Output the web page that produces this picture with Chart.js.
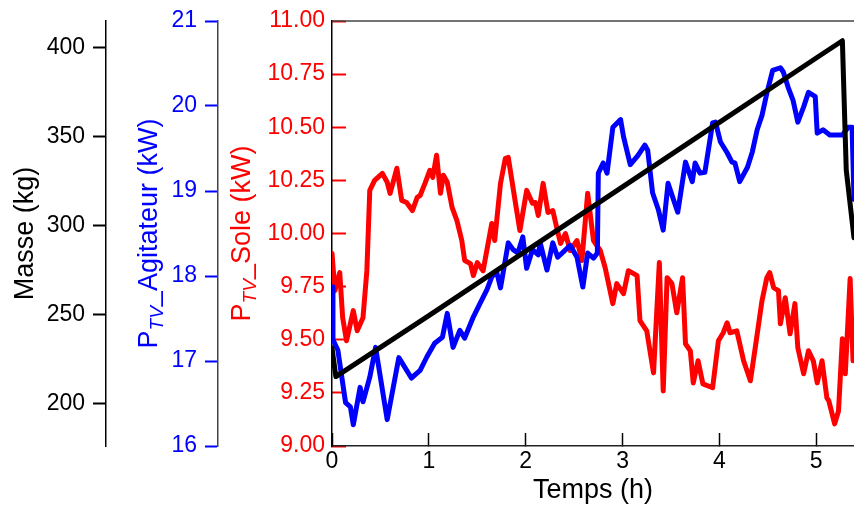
<!DOCTYPE html>
<html>
<head>
<meta charset="utf-8">
<script src="https://cdn.jsdelivr.net/npm/chart.js@4/dist/chart.umd.min.js"></script>
<style>
  body { margin: 0; background: #fff; }
</style>
</head>
<body>
<canvas id="grafico" width="854" height="507"></canvas>
<script>
// Masse (kg) vs temps (h)
const tempsMasse = [0, 0.04, 1, 2, 3, 4, 5, 5.27, 5.31, 5.39];
const masse = [231, 215, 249.3, 285.5, 321.6, 357.8, 394, 403.7, 331, 293];

// P_TV_Agitateur (kW)
const tempsAgit = [0, 0.01, 0.06, 0.14, 0.19, 0.22, 0.29, 0.32, 0.39, 0.45, 0.57, 0.69, 0.82, 0.91, 0.98,
    1.06, 1.14, 1.19, 1.25, 1.32, 1.37, 1.46, 1.53, 1.6, 1.65, 1.7, 1.74, 1.82, 1.87, 1.92, 1.97,
    2.01, 2.07, 2.13, 2.15, 2.22, 2.28, 2.33, 2.46, 2.53, 2.59, 2.64, 2.7, 2.74, 2.75, 2.8, 2.84, 2.9, 2.98,
    3.01, 3.08, 3.16, 3.23, 3.26, 3.31, 3.37, 3.42, 3.47, 3.57, 3.65, 3.72, 3.75, 3.8, 3.85, 3.93, 3.96,
    4.01, 4.08, 4.13, 4.16, 4.21, 4.29, 4.34, 4.39, 4.44, 4.49, 4.55, 4.63, 4.66, 4.71, 4.76, 4.81, 4.87,
    4.92, 4.99, 5.01, 5.07, 5.14, 5.27, 5.33, 5.37, 5.39];
const agitateur = [17.87, 17.25, 17.13, 16.51, 16.46, 16.25, 16.69, 16.52, 16.81, 17.16, 16.31, 17.04, 16.8, 16.89, 17.05,
    17.21, 17.28, 17.56, 17.16, 17.36, 17.27, 17.52, 17.68, 17.84, 17.99, 18.05, 17.86, 18.39, 18.31, 18.27, 18.46,
    18.09, 18.31, 18.25, 18.39, 18.07, 18.39, 18.22, 18.36, 18.22, 17.87, 18.27, 18.21, 18.27, 19.21, 19.33, 19.21, 19.75, 19.84,
    19.64, 19.31, 19.42, 19.54, 19.48, 18.98, 18.78, 18.54, 19.09, 18.75, 19.34, 19.11, 19.33, 19.21, 19.22, 19.8, 19.81,
    19.58, 19.45, 19.34, 19.33, 19.11, 19.28, 19.46, 19.72, 19.89, 20.15, 20.42, 20.45, 20.4, 20.22, 20.07, 19.81, 19.99,
    20.16, 20.11, 19.68, 19.72, 19.66, 19.66, 19.75, 19.75, 18.9];

// P_TV_Sole (kW)
const tempsSole = [0, 0.03, 0.08, 0.11, 0.15, 0.22, 0.26, 0.32, 0.36, 0.39, 0.44, 0.52, 0.57, 0.6, 0.67, 0.72, 0.77,
    0.83, 0.88, 0.91, 0.96, 1.01, 1.04, 1.08, 1.12, 1.15, 1.19, 1.24, 1.29, 1.34, 1.37, 1.43, 1.46, 1.5, 1.56,
    1.65, 1.68, 1.74, 1.79, 1.82, 1.89, 1.94, 2.01, 2.07, 2.1, 2.13, 2.18, 2.23, 2.28, 2.32, 2.36, 2.41, 2.46,
    2.53, 2.58, 2.64, 2.7, 2.77, 2.82, 2.9, 2.94, 3.01, 3.06, 3.15, 3.18, 3.25, 3.32, 3.38, 3.42, 3.46, 3.51,
    3.56, 3.62, 3.65, 3.7, 3.73, 3.78, 3.83, 3.93, 3.99, 4.04, 4.08, 4.11, 4.18, 4.25, 4.32, 4.37, 4.44, 4.49,
    4.52, 4.56, 4.61, 4.63, 4.68, 4.73, 4.78, 4.81, 4.87, 4.92, 4.97, 5.01, 5.06, 5.11, 5.13, 5.19, 5.23, 5.27,
    5.3, 5.35, 5.38, 5.39];
const sole = [9.906, 9.731, 9.816, 9.604, 9.495, 9.637, 9.542, 9.604, 9.825, 10.203, 10.25, 10.283, 10.241, 10.189, 10.307, 10.156, 10.146,
    10.108, 10.17, 10.179, 10.236, 10.297, 10.264, 10.368, 10.189, 10.274, 10.241, 10.123, 10.061, 9.967, 9.873, 9.858, 9.802, 9.863, 9.825,
    10.047, 9.967, 10.236, 10.354, 10.358, 10.156, 10.014, 10.203, 10.142, 10.146, 10.085, 10.236, 10.099, 10.108, 10.028, 9.953, 10.0, 9.92,
    9.967, 9.873, 10.189, 9.967, 9.92, 9.84, 9.67, 9.764, 9.717, 9.825, 9.802, 9.59, 9.542, 9.344, 9.863, 9.259, 9.792, 9.764,
    9.627, 9.792, 9.481, 9.448, 9.297, 9.401, 9.292, 9.274, 9.495, 9.533, 9.58, 9.533, 9.542, 9.401, 9.307, 9.462, 9.684, 9.792,
    9.816, 9.745, 9.731, 9.575, 9.698, 9.528, 9.67, 9.462, 9.34, 9.448, 9.401, 9.297, 9.401, 9.226, 9.212, 9.104, 9.165, 9.505,
    9.34, 9.788, 9.401, 9.45];

// bornes et graduations des axes
const bornesTemps = [0, 5.39];
const bornesMasse = [176, 414.8];
const bornesAgit = [16, 21];
const bornesSole = [9, 11];
const pasTemps = 1;
const pasMasse = 50;
const pasAgit = 1;
const pasSole = 0.25;

const titreX = "Temps (h)";
const titresY = [
    { x: 33, color: "#000000", parts: [["Masse (kg)", false]] },
    { x: 157, color: "#0000ff", parts: [["P", false], ["TV", true], ["_Agitateur (kW)", false]] },
    { x: 250, color: "#ff0000", parts: [["P", false], ["TV", true], ["_Sole (kW)", false]] },
];

const police = "'Liberation Sans', Arial, sans-serif";
Chart.defaults.font.family = police;

const toPoints = (xs, ys) => xs.map((x, i) => ({ x: x, y: ys[i] }));

// titres verticaux avec indice, et cadre du haut
const titresAxes = {
    id: "titresAxes",
    afterDraw(chart) {
        const ctx = chart.ctx;
        const area = chart.chartArea;
        const cy = (area.top + area.bottom) / 2;
        ctx.save();
        ctx.strokeStyle = "#444";
        ctx.lineWidth = 1.5;
        ctx.beginPath();
        ctx.moveTo(area.left, area.top);
        ctx.lineTo(area.right, area.top);
        ctx.stroke();
        ctx.restore();

        titresY.forEach((t) => {
            ctx.save();
            ctx.fillStyle = t.color;
            ctx.textBaseline = "alphabetic";
            ctx.textAlign = "left";
            let total = 0;
            const widths = t.parts.map(([txt, sub]) => {
                ctx.font = sub ? `italic 19px ${police}` : `27px ${police}`;
                const w = ctx.measureText(txt).width;
                total += w;
                return w;
            });
            ctx.translate(t.x, cy);
            ctx.rotate(-Math.PI / 2);
            let u = -total / 2;
            t.parts.forEach(([txt, sub], i) => {
                ctx.font = sub ? `italic 19px ${police}` : `27px ${police}`;
                ctx.fillText(txt, u, sub ? 6 : 0);
                u += widths[i];
            });
            ctx.restore();
        });
    },
};

// largeur fixe de chaque axe vertical, sans marge au-dessus / au-dessous
const fixWidth = (w) => (scale) => {
    scale.width = w;
    scale.paddingTop = 0;
    scale.paddingBottom = 0;
};

new Chart(document.getElementById("grafico").getContext("2d"), {
    type: "line",
    data: {
        datasets: [
            {
                label: "Masse",
                data: toPoints(tempsMasse, masse),
                yAxisID: "yMasse",
                borderColor: "#000000",
                borderWidth: 5,
            },
            {
                label: "P_TV_Agitateur",
                data: toPoints(tempsAgit, agitateur),
                yAxisID: "yAgit",
                borderColor: "#0000ff",
                borderWidth: 5,
            },
            {
                label: "P_TV_Sole",
                data: toPoints(tempsSole, sole),
                yAxisID: "ySole",
                borderColor: "#ff0000",
                borderWidth: 5,
            },
        ],
    },
    options: {
        responsive: false,
        animation: false,
        devicePixelRatio: 1,
        layout: { padding: { top: 21, right: 0, left: 0, bottom: 0 } },
        elements: {
            point: { radius: 0 },
            line: { tension: 0, borderJoinStyle: "round", borderCapStyle: "round" },
        },
        plugins: {
            legend: { display: false },
            tooltip: { enabled: false },
        },
        scales: {
            x: {
                type: "linear",
                position: "bottom",
                min: bornesTemps[0],
                max: bornesTemps[1],
                afterFit: (scale) => { scale.height = 61; },
                ticks: {
                    stepSize: pasTemps,
                    includeBounds: false,
                    color: "#000",
                    font: { size: 23 },
                    padding: 15,
                    maxRotation: 0,
                },
                grid: {
                    drawOnChartArea: false,
                    tickLength: -13,
                    tickColor: "#000",
                    tickWidth: 1.5,
                },
                border: { color: "#222", width: 1.5 },
                title: {
                    display: true,
                    text: titreX,
                    color: "#000",
                    font: { size: 27 },
                    padding: { top: 0, bottom: 0 },
                },
            },
            ySole: {
                type: "linear",
                position: "left",
                weight: 0,
                min: bornesSole[0],
                max: bornesSole[1],
                afterFit: fixWidth(114),
                ticks: {
                    stepSize: pasSole,
                    includeBounds: false,
                    color: "#ff0000",
                    font: { size: 23 },
                    padding: 21,
                    callback: (v) => v.toFixed(2),
                },
                grid: {
                    drawOnChartArea: false,
                    tickLength: -14,
                    tickColor: "#ff0000",
                    tickWidth: 2,
                },
                border: { color: "#000", width: 1.5 },
            },
            yAgit: {
                type: "linear",
                position: "left",
                weight: 1,
                min: bornesAgit[0],
                max: bornesAgit[1],
                afterFit: fixWidth(112),
                ticks: {
                    stepSize: pasAgit,
                    includeBounds: false,
                    color: "#0000ff",
                    font: { size: 23 },
                    padding: 8,
                },
                grid: {
                    drawOnChartArea: false,
                    tickLength: 13,
                    tickColor: "#0000ff",
                    tickWidth: 2,
                },
                border: { color: "#444", width: 1.5 },
            },
            yMasse: {
                type: "linear",
                position: "left",
                weight: 2,
                min: bornesMasse[0],
                max: bornesMasse[1],
                afterFit: fixWidth(106),
                ticks: {
                    stepSize: pasMasse,
                    includeBounds: false,
                    color: "#000",
                    font: { size: 23 },
                    padding: 8,
                },
                grid: {
                    drawOnChartArea: false,
                    tickLength: 13,
                    tickColor: "#000",
                    tickWidth: 2,
                },
                border: { color: "#000", width: 1.5 },
            },
        },
    },
    plugins: [titresAxes],
});
</script>
</body>
</html>
